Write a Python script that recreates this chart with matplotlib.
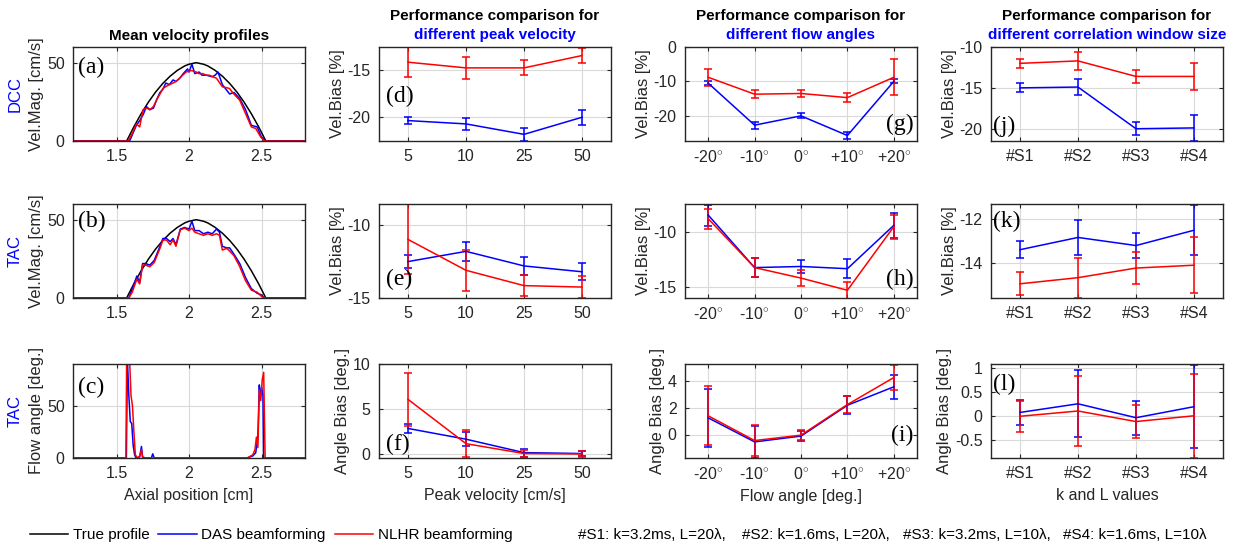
import numpy as np
import matplotlib
matplotlib.use("Agg")
import matplotlib.pyplot as plt

plt.rcParams['font.family'] = ['Liberation Sans', 'DejaVu Sans']
plt.rcParams['mathtext.fontset'] = 'custom'
plt.rcParams['mathtext.rm'] = 'Liberation Sans'
plt.rcParams['axes.unicode_minus'] = False

# ---------- column 1 : mean velocity profiles ----------
true_x = [1.2, 1.57, 1.62, 1.67, 1.72, 1.77, 1.82, 1.87, 1.92, 1.97, 2.0, 2.05, 2.10,
          2.13, 2.18, 2.23, 2.28, 2.33, 2.38, 2.43, 2.48, 2.53, 2.8]
true_y = [0, 0, 9.1, 17.4, 24.8, 31.3, 36.8, 41.4, 45.1, 47.9, 49.0, 50.0, 49.0,
          47.9, 45.1, 41.4, 36.8, 31.3, 24.8, 17.4, 9.1, 0, 0]

# (a) DCC
a_das_x = [1.2, 1.59, 1.60, 1.637, 1.66, 1.685, 1.706, 1.73, 1.755, 1.78, 1.80, 1.82, 1.84,
           1.865, 1.89, 1.91, 1.936, 1.96, 1.99, 2.0, 2.02, 2.04, 2.07, 2.09, 2.12, 2.16,
           2.18, 2.2, 2.23, 2.28, 2.31, 2.35, 2.39, 2.43, 2.47, 2.50, 2.53, 2.8]
a_das_y = [0, 0, 2, 10, 13, 17, 22, 20, 21, 27, 31, 33, 37, 36, 39, 38, 40, 43, 46, 44,
           49, 43, 44, 42, 42, 41, 42, 44, 36, 30, 31, 27, 20, 10, 9, 2.5, 0, 0]
a_nlhr_x = [1.2, 1.58, 1.61, 1.637, 1.66, 1.683, 1.71, 1.73, 1.755, 1.775, 1.80, 1.82,
            1.845, 1.866, 1.89, 1.91, 1.945, 1.98, 2.016, 2.05, 2.07, 2.095, 2.12, 2.14,
            2.165, 2.19, 2.23, 2.26, 2.28, 2.30, 2.33, 2.35, 2.39, 2.43, 2.46, 2.495, 2.52, 2.8]
a_nlhr_y = [0, 0, 5, 11, 9, 20, 21, 20, 22, 26, 30, 33.5, 35, 36, 37, 38, 41, 44, 45, 44,
            43, 43, 42, 42, 41, 40, 34.6, 34, 33.5, 31, 28, 26, 17.5, 9, 8, 2.5, 0, 0]

# (b) TAC
b_das_x = [1.2, 1.585, 1.61, 1.64, 1.66, 1.68, 1.70, 1.73, 1.76, 1.80, 1.82, 1.845, 1.87,
           1.89, 1.91, 1.94, 1.97, 2.0, 2.02, 2.04, 2.07, 2.10, 2.13, 2.16, 2.19, 2.21,
           2.23, 2.26, 2.28, 2.31, 2.35, 2.39, 2.43, 2.47, 2.50, 2.52, 2.8]
b_das_y = [0, 0, 6, 14, 10, 22, 22, 21, 24, 33, 38, 38, 36, 38, 34, 44, 45, 44, 49, 43,
           43, 41, 42, 41, 44, 42, 33, 32, 32, 28, 22, 13, 6, 3, 2, 0, 0]
b_nlhr_x = [1.2, 1.585, 1.61, 1.64, 1.66, 1.68, 1.70, 1.73, 1.76, 1.80, 1.82, 1.845, 1.87,
            1.89, 1.91, 1.94, 1.97, 2.0, 2.02, 2.04, 2.07, 2.10, 2.13, 2.16, 2.19, 2.21,
            2.23, 2.26, 2.28, 2.31, 2.35, 2.39, 2.43, 2.47, 2.50, 2.52, 2.8]
b_nlhr_y = [0, 0, 4, 12, 9, 21, 21, 20, 22.6, 31.7, 37, 37, 34, 37, 33, 43.5, 44.6, 43,
            44.6, 42, 41, 40, 41, 40, 41, 40, 30.6, 31.7, 30, 27, 20, 11, 5, 3.7, 1, 0, 0]

# (c) TAC flow angle
c_das_x = [1.2, 1.568, 1.575, 1.585, 1.595, 1.605, 1.615, 1.625, 1.635, 1.66, 1.672, 1.68,
           1.70, 1.74, 1.75, 1.76, 2.40, 2.44, 2.46, 2.475, 2.485, 2.49, 2.50, 2.51, 2.515, 2.8]
c_das_y = [0, 0, 95, 60, 35, 33, 12, 3, 0, 1, 11, 1, 0, 0, 4, 0, 0, 2, 5, 20, 70, 56,
           68, 60, 0, 0]
c_nlhr_x = [1.2, 1.565, 1.57, 1.58, 1.59, 1.60, 1.61, 1.62, 1.63, 1.645, 1.66, 1.672, 1.68,
            1.70, 2.40, 2.44, 2.455, 2.465, 2.475, 2.485, 2.495, 2.505, 2.515, 2.525, 2.8]
c_nlhr_y = [0, 0, 95, 95, 95, 60, 50, 25, 3, 0, 2, 8, 0, 0, 0, 3, 8, 20, 10, 65, 55, 75,
            82, 0, 0]

# ---------- column 2 : peak velocity ----------
peak_labels = ['5', '10', '25', '50']
d_das = [-20.35, -20.7, -21.8, -20.0]
d_das_err = [0.4, 0.6, 0.65, 0.8]
d_nlhr = [-14.2, -14.8, -14.8, -13.5]
d_nlhr_err = [1.6, 1.15, 0.8, 0.75]
e_das = [-12.5, -11.8, -12.8, -13.2]
e_das_err = [0.45, 0.65, 0.6, 0.57]
e_nlhr = [-10.98, -13.1, -14.15, -14.25]
e_nlhr_err = [2.4, 1.4, 0.7, 0.75]
f_das = [2.8, 1.6, 0.1, 0.0]
f_das_err = [0.5, 0.77, 0.45, 0.3]
f_nlhr = [6.05, 1.1, 0.0, -0.05]
f_nlhr_err = [3.0, 1.5, 0.35, 0.3]

# ---------- column 3 : flow angles ----------
angle_labels = [r'-20$^{\circ}$', r'-10$^{\circ}$', r'0$^{\circ}$', r'+10$^{\circ}$', r'+20$^{\circ}$']
g_das = [-10.5, -22.7, -20.0, -25.7, -10.0]
g_das_err = [0.6, 1.0, 0.75, 1.0, 0.6]
g_nlhr = [-8.8, -13.7, -13.5, -14.7, -8.8]
g_nlhr_err = [2.5, 1.2, 0.9, 1.3, 5.2]
h_das = [-8.5, -13.25, -13.15, -13.35, -9.43]
h_das_err = [0.95, 0.83, 0.63, 0.85, 1.15]
h_nlhr = [-8.83, -13.25, -14.2, -15.3, -9.55]
h_nlhr_err = [0.9, 0.83, 0.75, 0.78, 1.1]
i_das = [1.24, -0.55, -0.12, 2.18, 3.55]
i_das_err = [2.15, 1.2, 0.38, 0.65, 0.9]
i_nlhr = [1.39, -0.45, -0.05, 2.23, 4.24]
i_nlhr_err = [2.2, 1.18, 0.35, 0.65, 0.9]

# ---------- column 4 : correlation window ----------
win_labels = ['#S1', '#S2', '#S3', '#S4']
j_das = [-15.0, -14.9, -20.0, -19.9]
j_das_err = [0.55, 1.0, 0.8, 1.6]
j_nlhr = [-12.0, -11.7, -13.6, -13.6]
j_nlhr_err = [0.55, 1.1, 0.8, 1.6]
k_das = [-13.39, -12.83, -13.2, -12.5]
k_das_err = [0.39, 0.8, 0.57, 1.14]
k_nlhr = [-14.95, -14.67, -14.23, -14.1]
k_nlhr_err = [0.52, 0.92, 0.73, 1.27]
l_das = [0.07, 0.25, -0.04, 0.19]
l_das_err = [0.26, 0.7, 0.35, 0.87]
l_nlhr = [-0.01, 0.1, -0.12, 0.0]
l_nlhr_err = [0.32, 0.72, 0.35, 0.88]

settings = ['#S1: k=3.2ms, L=20λ,', '#S2: k=1.6ms, L=20λ,',
            '#S3: k=3.2ms, L=10λ,', '#S4: k=1.6ms, L=10λ']

BLUE = (0, 0, 1)
RED = (1, 0, 0)
DARK = '#262626'
TICK_FS = 11.5
LAB_FS = 11.5
TTL_FS = 11

fig = plt.figure(figsize=(12.43, 5.47), dpi=100)

W, H = 1243.0, 547.0
col_left = [73, 379, 685, 991]
row_top = [47, 204, 364]
ax_w, ax_h = 232, 94


def make_ax(r, c):
    l = col_left[c] / W
    b = 1 - (row_top[r] + ax_h) / H
    ax = fig.add_axes([l, b, ax_w / W, ax_h / H])
    ax.grid(True, color='#d9d9d9', lw=0.8)
    ax.set_axisbelow(True)
    ax.tick_params(direction='in', top=True, right=True, length=3, labelsize=TICK_FS,
                   colors=DARK, labelcolor=DARK, pad=6)
    for s in ax.spines.values():
        s.set_color(DARK)
        s.set_linewidth(1.0)
    return ax


def panel_label(ax, txt, x, y, ha='left'):
    ax.text(x, y, txt, transform=ax.transAxes, ha=ha, va='center',
            fontsize=17, family=['Liberation Serif', 'DejaVu Serif'], color='black')


def err_panel(ax, n, das, das_err, nlhr, nlhr_err):
    x = np.arange(1, n + 1)
    ax.errorbar(x, das, yerr=das_err, color=BLUE, lw=1.1, capsize=3, capthick=1.1)
    ax.errorbar(x, nlhr, yerr=nlhr_err, color=RED, lw=1.1, capsize=3, capthick=1.1)
    ax.set_xlim(0.5, n + 0.5)
    ax.set_xticks(x)


def ylab(ax, txt):
    ax.set_ylabel(txt, fontsize=12, color=DARK, labelpad=2)


def xlab(ax, txt):
    ax.set_xlabel(txt, fontsize=LAB_FS, color=DARK, labelpad=5)


# column 1
prof = [(a_das_x, a_das_y, a_nlhr_x, a_nlhr_y), (b_das_x, b_das_y, b_nlhr_x, b_nlhr_y)]
for r in range(2):
    ax = make_ax(r, 0)
    dx, dy, nx, ny = prof[r]
    ax.plot(true_x, true_y, color='black', lw=1.1)
    ax.plot(dx, dy, color=BLUE, lw=1.1)
    ax.plot(nx, ny, color=RED, lw=1.1)
    ax.set_xlim(1.2, 2.8)
    ax.set_ylim(0, 60)
    ax.set_xticks([1.5, 2, 2.5])
    ax.set_xticklabels(['1.5', '2', '2.5'])
    ax.set_yticks([0, 50])
    ylab(ax, 'Vel.Mag. [cm/s]')
    ax.text(-0.25, 0.5, 'DCC' if r == 0 else 'TAC', transform=ax.transAxes, rotation=90,
            ha='center', va='center', fontsize=12, color=BLUE)
    panel_label(ax, '(a)' if r == 0 else '(b)', 0.02, 0.78 if r == 0 else 0.81)
    if r == 0:
        ax.set_title('Mean velocity profiles', fontsize=TTL_FS, fontweight='bold', pad=5)

ax = make_ax(2, 0)
ax.plot(c_das_x, c_das_y, color=BLUE, lw=1.1)
ax.plot(c_nlhr_x, c_nlhr_y, color=RED, lw=1.1)
ax.set_xlim(1.2, 2.8)
ax.set_ylim(0, 90)
ax.set_xticks([1.5, 2, 2.5])
ax.set_xticklabels(['1.5', '2', '2.5'])
ax.set_yticks([0, 50])
ylab(ax, 'Flow angle [deg.]')
xlab(ax, 'Axial position [cm]')
ax.text(-0.25, 0.5, 'TAC', transform=ax.transAxes, rotation=90,
        ha='center', va='center', fontsize=12, color=BLUE)
panel_label(ax, '(c)', 0.02, 0.755)

# column 2
ax = make_ax(0, 1)
err_panel(ax, 4, d_das, d_das_err, d_nlhr, d_nlhr_err)
ax.set_ylim(-22.5, -12.6)
ax.set_yticks([-20, -15])
ax.set_xticklabels(peak_labels)
ylab(ax, 'Vel.Bias [%]')
panel_label(ax, '(d)', 0.03, 0.47)

ax = make_ax(1, 1)
err_panel(ax, 4, e_das, e_das_err, e_nlhr, e_nlhr_err)
ax.set_ylim(-15, -8.55)
ax.set_yticks([-15, -10])
ax.set_xticklabels(peak_labels)
ylab(ax, 'Vel.Bias [%]')
panel_label(ax, '(e)', 0.03, 0.2)

ax = make_ax(2, 1)
err_panel(ax, 4, f_das, f_das_err, f_nlhr, f_nlhr_err)
ax.set_ylim(-0.5, 10)
ax.set_yticks([0, 5, 10])
ax.set_xticklabels(peak_labels)
ylab(ax, 'Angle Bias [deg.]')
xlab(ax, 'Peak velocity [cm/s]')
panel_label(ax, '(f)', 0.03, 0.14)

# column 3
ax = make_ax(0, 2)
err_panel(ax, 5, g_das, g_das_err, g_nlhr, g_nlhr_err)
ax.set_ylim(-27.3, 0)
ax.set_yticks([-20, -10, 0])
ax.set_xticklabels(angle_labels)
ylab(ax, 'Vel.Bias [%]')
panel_label(ax, '(g)', 0.985, 0.18, ha='right')

ax = make_ax(1, 2)
err_panel(ax, 5, h_das, h_das_err, h_nlhr, h_nlhr_err)
ax.set_ylim(-16, -7.5)
ax.set_yticks([-15, -10])
ax.set_xticklabels(angle_labels)
ylab(ax, 'Vel.Bias [%]')
panel_label(ax, '(h)', 0.985, 0.2, ha='right')

ax = make_ax(2, 2)
err_panel(ax, 5, i_das, i_das_err, i_nlhr, i_nlhr_err)
ax.set_ylim(-1.75, 5.25)
ax.set_yticks([0, 2, 4])
ax.set_xticklabels(angle_labels)
ylab(ax, 'Angle Bias [deg.]')
xlab(ax, 'Flow angle [deg.]')
panel_label(ax, '(i)', 0.985, 0.245, ha='right')

# column 4
ax = make_ax(0, 3)
err_panel(ax, 4, j_das, j_das_err, j_nlhr, j_nlhr_err)
ax.set_ylim(-21.5, -10)
ax.set_yticks([-20, -15, -10])
ax.set_xticklabels(win_labels)
ylab(ax, 'Vel.Bias [%]')
panel_label(ax, '(j)', 0.01, 0.16)

ax = make_ax(1, 3)
err_panel(ax, 4, k_das, k_das_err, k_nlhr, k_nlhr_err)
ax.set_ylim(-15.6, -11.3)
ax.set_yticks([-14, -12])
ax.set_xticklabels(win_labels)
ylab(ax, 'Vel.Bias [%]')
panel_label(ax, '(k)', 0.01, 0.81)

ax = make_ax(2, 3)
err_panel(ax, 4, l_das, l_das_err, l_nlhr, l_nlhr_err)
ax.set_ylim(-0.88, 1.08)
ax.set_yticks([-0.5, 0, 0.5, 1])
ax.set_yticklabels(['-0.5', '0', '0.5', '1'])
ax.set_xticklabels(win_labels)
ylab(ax, 'Angle Bias [deg.]')
xlab(ax, 'k and L values')
panel_label(ax, '(l)', 0.01, 0.78)

# two-line column titles
sub = ['different peak velocity', 'different flow angles', 'different correlation window size']
for c in range(1, 4):
    xc = (col_left[c] + ax_w / 2) / W
    fig.text(xc, 1 - 16 / H, 'Performance comparison for', ha='center', va='center',
             fontsize=TTL_FS, fontweight='bold', color='black')
    fig.text(xc, 1 - 35 / H, sub[c - 1], ha='center', va='center',
             fontsize=TTL_FS, fontweight='bold', color=BLUE)

# bottom legend
h1, = plt.plot([], [], color='black', lw=1.1, label='True profile')
h2, = plt.plot([], [], color=BLUE, lw=1.1, label='DAS beamforming')
h3, = plt.plot([], [], color=RED, lw=1.1, label='NLHR beamforming')
fig.legend(handles=[h1, h2, h3], loc='center left', bbox_to_anchor=(16 / W, 1 - 535 / H),
           ncol=3, frameon=False, fontsize=11, handlelength=2.5, columnspacing=0.6,
           handletextpad=0.3)
for xs, s in zip([578, 742, 903, 1063], settings):
    fig.text(xs / W, 1 - 535 / H, s, ha='left', va='center', fontsize=11, color='black')

fig.savefig('out.png', dpi=100)
